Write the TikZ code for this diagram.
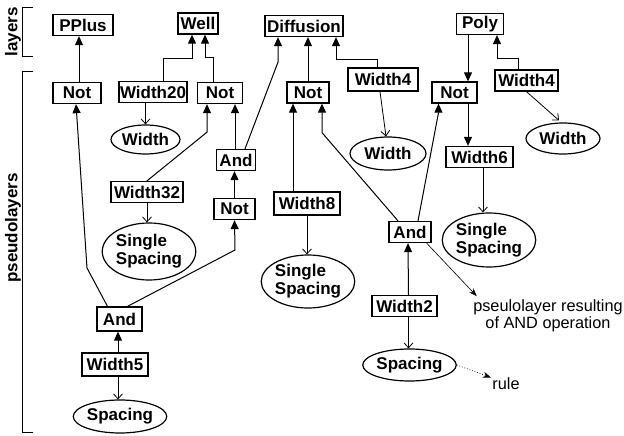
\documentclass[tikz,border=0pt]{standalone}
\usepackage{fontspec}
\setmainfont{Liberation Sans}
\usetikzlibrary{arrows.meta,shapes.geometric}

\begin{document}
\begin{tikzpicture}[x=1pt, y=-1pt, line width=1pt,
    lyr/.style={draw, rectangle, line width=1.3pt, font=\bfseries\fontsize{17}{19}\selectfont, inner xsep=1pt, inner ysep=0pt, minimum height=21pt},
    rul/.style={draw, ellipse, line width=1.2pt, font=\bfseries\fontsize{17}{18}\selectfont, inner sep=0pt, align=left},
    side/.style={font=\bfseries\fontsize{17}{18}\selectfont, rotate=90, inner sep=0pt},
    deriv/.style={-{Triangle[length=9pt,width=8pt]}},
    use/.style={-{Straight Barb[length=5pt,width=9pt]}, line width=0.8pt},
    note/.style={font=\fontsize{16.3}{17.5}\selectfont, align=center, inner sep=0pt}]

    \useasboundingbox (0,0) rectangle (624,436);

    \draw (33,8) -- (22,8) -- (22,57) -- (33,57);
    \draw (33,72) -- (22,72) -- (22,432) -- (33,432);
    \node[side] (layers) at (13,32) {layers};
    \node[side] (pseudo) at (13,228) {pseudolayers};

    \node[lyr, minimum width=60pt] (pplus) at (83,25) {PPlus};
    \node[lyr, minimum width=40pt] (well) at (198,23.5) {Well};
    \node[lyr, minimum width=78pt] (diff) at (304,26) {Diffusion};
    \node[lyr, minimum width=47pt] (poly) at (480,24) {Poly};

    \node[lyr, minimum width=48pt] (not1) at (77,93) {Not};
    \node[lyr, minimum width=68pt] (w20) at (153,92) {Width20};
    \node[lyr, minimum width=45pt] (not2) at (220,93) {Not};
    \node[lyr, minimum width=39pt] (and1) at (236,160) {And};
    \node[lyr, minimum width=72pt] (w32) at (147,192) {Width32};
    \node[lyr, minimum width=41pt] (not3) at (234.5,209) {Not};
    \node[lyr, minimum width=45pt, minimum height=24pt] (and2) at (119.5,319) {And};
    \node[lyr, minimum width=66pt, minimum height=23pt] (w5) at (115,364.5) {Width5};
    \node[lyr, minimum width=42pt] (not4) at (308,92.5) {Not};
    \node[lyr, minimum width=70pt, minimum height=23pt] (w4a) at (383,79.5) {Width4};
    \node[lyr, minimum width=66pt, minimum height=23pt] (w8) at (307,203.5) {Width8};
    \node[lyr, minimum width=42pt] (and3) at (410,232) {And};
    \node[lyr, minimum width=65pt] (w2) at (404.5,306) {Width2};
    \node[lyr, minimum width=45pt] (not5) at (454.5,92.5) {Not};
    \node[lyr, minimum width=63pt] (w4b) at (526.5,80.5) {Width4};
    \node[lyr, minimum width=67pt] (w6) at (479.5,157) {Width6};

    \node[rul, minimum width=69pt, minimum height=29pt] (wdA) at (145.5,139.5) {Width};
    \node[rul, minimum width=82pt, minimum height=57pt] (ssA) at (149,251.5) {Single\\Spacing};
    \node[rul, minimum width=74pt, minimum height=33pt] (spA) at (120,416.5) {Spacing};
    \node[rul, minimum width=76pt, minimum height=33pt] (wdB) at (388,153.5) {Width};
    \node[rul, minimum width=89pt, minimum height=53pt] (ssB) at (308,281.5) {Single\\Spacing};
    \node[rul, minimum width=75pt, minimum height=32pt] (spB) at (409.5,365) {Spacing};
    \node[rul, minimum width=74pt, minimum height=31pt] (wdC) at (563,138.5) {Width};
    \node[rul, minimum width=82pt, minimum height=54pt] (ssC) at (489,240) {Single\\Spacing};

    \node[note] (expl) at (548,316) {pseulolayer resulting\\of AND operation};
    \node[note] (rule) at (506,384) {rule};

    \draw[deriv] ([xshift=-4pt]pplus.south |- not1.north) -- ([xshift=-4pt]pplus.south);
    \draw[deriv] ([xshift=10pt]w20.north) -- ++(0,-22) -| ([xshift=-6pt]well.south);
    \draw[deriv] ([xshift=-7pt]not2.north) -- ++(0,-24) -| ([xshift=7pt]well.south);
    \draw[use] (w20.south -| wdA.north) -- (wdA.north);
    \draw[use] (w32.south) -- (w32.south |- ssA.north);
    \draw[deriv] (w32.north) -- ([xshift=-13pt,yshift=-28pt]not2.south) -- ([xshift=-13pt]not2.south);
    \draw[deriv] ([xshift=-1pt]and1.north) -- ([xshift=15pt]not2.south);
    \draw[deriv] (not3.north) -- (not3.north |- and1.south);
    \draw[deriv] ([xshift=9pt]and1.north) -- ([xshift=-26pt,yshift=-25pt]diff.south) -- ([xshift=-26pt]diff.south);
    \draw[deriv] (not4.north) -- (not4.north |- diff.south);
    \draw[deriv] ([xshift=-6pt]w4a.north) -- ++(0,-8) -| ([xshift=32pt]diff.south);
    \draw[use] ([xshift=-3pt]w4a.south) -- ([xshift=-2pt]wdB.north);
    \draw[deriv] ([xshift=-14pt]w8.north) -- ([xshift=-15pt]not4.south);
    \draw[use] (w8.south) -- (w8.south |- ssB.north);
    \draw[deriv] ([xshift=-12pt]and3.north) -- ([xshift=14pt,yshift=-29pt]not4.south) -- ([xshift=14pt]not4.south);
    \draw[deriv] ([xshift=8pt]and3.north) -- ([xshift=-16pt,yshift=-9pt]not5.south) -- ([xshift=-16pt]not5.south);
    \draw[deriv] ([xshift=4pt]w2.north) -- ([xshift=-2pt]and3.south);
    \draw[use] ([xshift=4pt]w2.south) -- ([xshift=-1pt]spB.north);
    \draw[line width=0.6pt, -{Stealth[length=8pt,width=6pt]}] ([xshift=-5pt]and3.south east) -- ([xshift=4pt,yshift=3pt]expl.north west);
    \draw[line width=0.7pt, dotted, -{Stealth[length=8pt,width=6pt]}] (spB.east) -- ([xshift=-1pt]rule.north west);
    \draw[deriv] ([xshift=-12pt]poly.south) -- ([xshift=13.5pt]not5.north);
    \draw[deriv] ([xshift=13.5pt]not5.south) -- ([xshift=-11.5pt]w6.north);
    \draw[use] ([xshift=3.5pt]w6.south) -- ([xshift=-6pt]ssC.north);
    \draw[deriv] ([xshift=-8.5pt]w4b.north) -- ++(0,-10.5) -| ([xshift=17pt]poly.south);
    \draw[use] (w4b.south) -- ([xshift=-4pt,yshift=2pt]wdC.north);
    \draw[deriv] ([xshift=-12pt]and2.north) -- (87,268) -- ([xshift=-1pt]not1.south);
    \draw[deriv] ([xshift=8pt]and2.north) -- (235,250) -- (not3.south);
    \draw[deriv] ([xshift=3pt]w5.north) -- ([xshift=-1.5pt]and2.south);
    \draw[use] ([xshift=3pt]w5.south) -- ([xshift=-2pt]spA.north);
\end{tikzpicture}
\end{document}
